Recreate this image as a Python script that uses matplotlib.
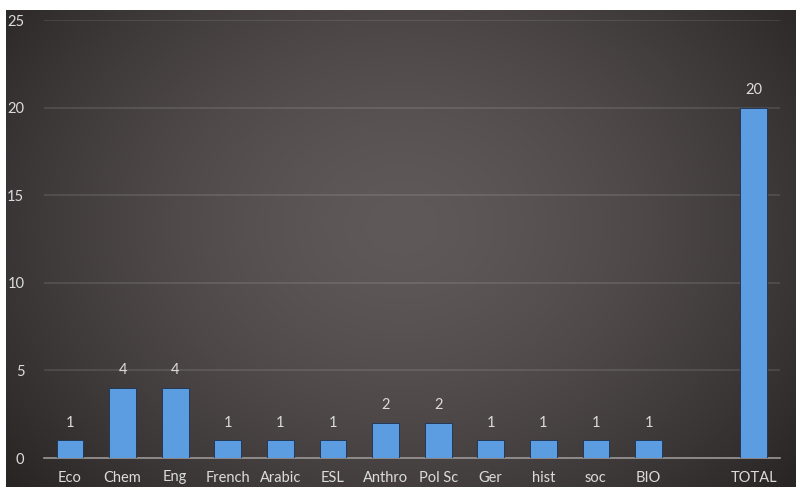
import numpy as np
import matplotlib
matplotlib.use("Agg")
import matplotlib.pyplot as plt

categories = ["Eco", "Chem", "Eng", "French", "Arabic", "ESL", "Anthro", "Pol Sc",
              "Ger", "hist", "soc", "BIO", "", "TOTAL"]
values = [1, 4, 4, 1, 1, 1, 2, 2, 1, 1, 1, 1, None, 20]
yticks = [0, 5, 10, 15, 20, 25]

W, H = 796, 487
fig = plt.figure(figsize=(W / 100, H / 100), dpi=100, facecolor="white")

# background gradient panel
bg = fig.add_axes([6 / W, 0, 790 / W, 477 / H])
bg.set_axis_off()
ny, nx = 240, 400
yy, xx = np.mgrid[0:ny, 0:nx]
cx, cy = nx * 0.50, ny * 0.45
d = np.sqrt(((xx - cx) / (nx * 0.64)) ** 2 + ((yy - cy) / (ny * 0.85)) ** 2)
d = np.clip(d, 0, 1) ** 1.5
c0 = np.array([0x60, 0x59, 0x5a]) / 255
c1 = np.array([0x29, 0x25, 0x25]) / 255
img = c0[None, None, :] * (1 - d[..., None]) + c1[None, None, :] * d[..., None]
bg.imshow(img, aspect="auto", extent=[0, 1, 0, 1], origin="upper")
bg.set_xlim(0, 1)
bg.set_ylim(0, 1)

ax = fig.add_axes([43.7 / W, (H - 458) / H, (780 - 43.7) / W, (458 - 20) / H])
ax.patch.set_alpha(0)
x = np.arange(len(categories))
vals = np.array([np.nan if v is None else v for v in values], dtype=float)
bars = ax.bar(x, np.nan_to_num(vals), width=0.51, color="#5b9de0",
              edgecolor="#23395a", linewidth=0.7, zorder=3)
for xi, v in zip(x, values):
    if v is None:
        continue
    ax.text(xi, v + 0.6, str(v), ha="center", va="bottom", color="#dcdcdc",
            fontsize=10.5, family="Lato", zorder=4)

ax.set_xlim(-0.5, len(categories) - 0.5)
ax.set_ylim(0, 25)
ax.set_yticks(yticks)
ax.set_xticks(x)
ax.set_xticklabels(categories)
for s in ["top", "right", "left"]:
    ax.spines[s].set_visible(False)
ax.spines["bottom"].set_color("#9a9696")
ax.spines["bottom"].set_linewidth(1.2)
ax.grid(axis="y", color="white", alpha=0.12, linewidth=1.2, zorder=0)
ax.tick_params(axis="both", length=0, colors="#dcdcdc", labelsize=10.5)
ax.tick_params(axis="y", pad=14)
ax.tick_params(axis="x", pad=9)
for lab in ax.get_xticklabels() + ax.get_yticklabels():
    lab.set_family("Lato")
    lab.set_color("#dcdcdc")

fig.savefig("out.png", dpi=100, facecolor="white")
